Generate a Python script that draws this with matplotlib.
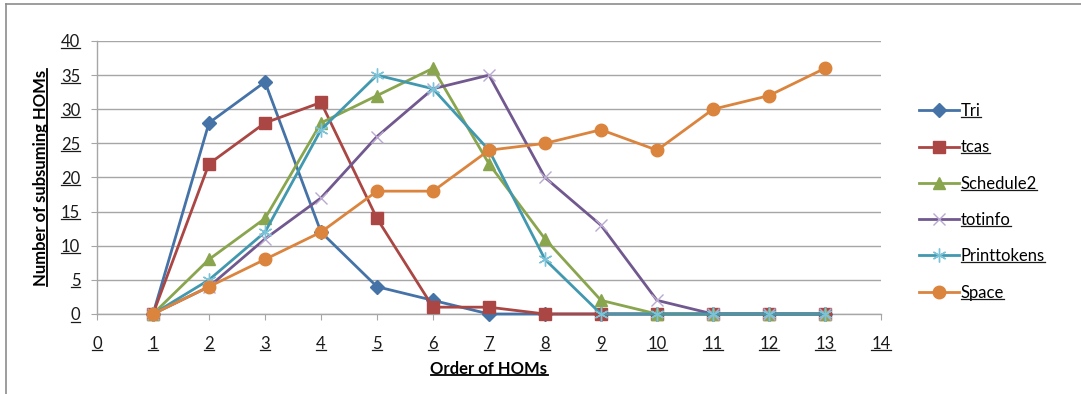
import matplotlib
matplotlib.use("Agg")
import matplotlib.pyplot as plt
from matplotlib.lines import Line2D

orders = [1, 2, 3, 4, 5, 6, 7, 8, 9, 10, 11, 12, 13]
tri = [0, 28, 34, 12, 4, 2, 0, 0, 0, 0, 0, 0, 0]
tcas = [0, 22, 28, 31, 14, 1, 1, 0, 0, 0, 0, 0, 0]
schedule2 = [0, 8, 14, 28, 32, 36, 22, 11, 2, 0, 0, 0, 0]
totinfo = [0, 4, 11, 17, 26, 33, 35, 20, 13, 2, 0, 0, 0]
printtokens = [0, 5, 12, 27, 35, 33, 24, 8, 0, 0, 0, 0, 0]
space = [0, 4, 8, 12, 18, 18, 24, 25, 27, 24, 30, 32, 36]
series_names = ["Tri", "tcas", "Schedule2", "totinfo", "Printtokens", "Space"]
x_ticks = list(range(0, 15))
y_ticks = list(range(0, 45, 5))

plt.rcParams['font.family'] = ['Lato', 'DejaVu Sans']
W, H = 1081, 394
fig = plt.figure(figsize=(W / 100, H / 100), dpi=100)
ax = fig.add_axes([97 / W, 1 - 314 / H, (881 - 97) / W, (314 - 41) / H])

styles = [
    dict(color='#4572A7', marker='D', ms=7, mfc='#4572A7', mec='#4572A7'),
    dict(color='#AA4643', marker='s', ms=9, mfc='#AA4643', mec='#AA4643'),
    dict(color='#89A54E', marker='^', ms=9, mfc='#89A54E', mec='#89A54E'),
    dict(color='#71588F', marker='x', ms=9, mfc='none', mec='#B9A9D0', mew=1.0),
    dict(color='#4198AF', marker=(6, 2, 0), ms=10, mfc='none', mec='#7CC3D8', mew=1.0),
    dict(color='#DB843D', marker='o', ms=9, mfc='#DB843D', mec='#DB843D'),
]
data = [tri, tcas, schedule2, totinfo, printtokens, space]
for name, vals, st in zip(series_names, data, styles):
    ax.plot(orders, vals, lw=2.0, label=name, zorder=3, clip_on=False, **st)

FS = 12
ax.set_xlim(0, 14)
ax.set_ylim(0, 40)
ax.set_xticks(x_ticks)
ax.set_yticks(y_ticks)
ax.grid(axis='y', color='#a6a6a6', lw=1.0)
ax.set_axisbelow(True)
for s in ['top', 'right']:
    ax.spines[s].set_visible(False)
for s in ['left', 'bottom']:
    ax.spines[s].set_color('#a6a6a6')
    ax.spines[s].set_linewidth(1.0)
ax.tick_params(axis='x', direction='out', length=4, color='#a6a6a6', pad=12,
               labelsize=FS, labelcolor='#1a1a1a')
ax.tick_params(axis='y', direction='out', length=4, color='#a6a6a6', pad=8,
               labelsize=FS, labelcolor='#1a1a1a')
ax.set_xlabel("Order of HOMs", fontsize=FS, fontweight='bold', labelpad=6)
ax.set_ylabel("Number of subsuming HOMs", fontsize=FS, fontweight='bold', labelpad=9)

leg = ax.legend(loc='upper left', bbox_to_anchor=(919 / W, 1 - 103 / H),
                bbox_transform=fig.transFigure, frameon=False, fontsize=FS,
                labelspacing=1.22, handlelength=2.4, handletextpad=0.1,
                borderpad=0, borderaxespad=0)

# frame around chart
fig.add_artist(Line2D([6 / W, 1], [1 - 4 / H, 1 - 4 / H], transform=fig.transFigure,
                      color='#8c8c8c', lw=1.2))
fig.add_artist(Line2D([6 / W, 6 / W], [0, 1 - 4 / H], transform=fig.transFigure,
                      color='#8c8c8c', lw=1.2))

# underline texts
fig.canvas.draw()
r = fig.canvas.get_renderer()
texts = list(ax.get_xticklabels()) + list(ax.get_yticklabels()) + list(leg.get_texts())
for t in texts:
    bb = t.get_window_extent(r)
    y = bb.y0 + 2
    fig.add_artist(Line2D([bb.x0 / W, bb.x1 / W], [y / H, y / H], transform=fig.transFigure,
                          color='#1a1a1a', lw=0.9))
bb = ax.xaxis.label.get_window_extent(r)
fig.add_artist(Line2D([bb.x0 / W, bb.x1 / W], [(bb.y0 + 2) / H] * 2, transform=fig.transFigure,
                      color='black', lw=1.3))
bb = ax.yaxis.label.get_window_extent(r)
fig.add_artist(Line2D([(bb.x1 - 2) / W] * 2, [bb.y0 / H, bb.y1 / H], transform=fig.transFigure,
                      color='black', lw=1.3))

fig.savefig("out.png", dpi=100)
